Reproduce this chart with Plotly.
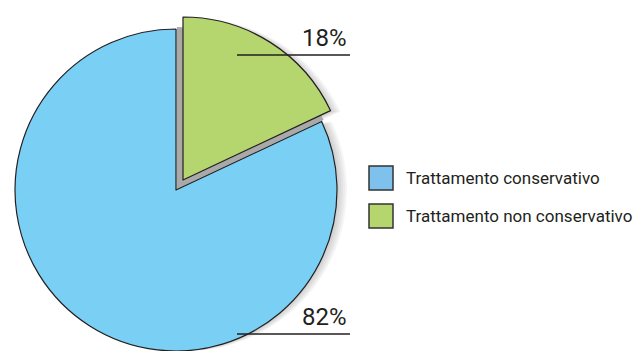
import plotly.graph_objects as go

# Chart data
labels = ["Trattamento conservativo", "Trattamento non conservativo"]
values = [82, 18]
slice_colors = ["#7AD0F4", "#B5D56F"]
legend_colors = ["#7EC1EC", "#B5D56F"]

W, H = 638, 351
FONT = "Roboto, Liberation Sans, sans-serif"

# Pie geometry (pixels): main pie centre/radius, offset of the detached slice
R = 161
RG = 163                 # detached slice radius
CX, CY = 176, 190
DX, DY = 7, -10          # detached slice offset
SDX, SDY = 1, -1         # its drop shadow offset

# slices are drawn clockwise from 12 o'clock, smaller share first
ORDER = [1, 0]


def domain(cx, cy, r):
    y0 = max(0.0, (H - cy - r) / H)
    return dict(x=[(cx - r) / W, (cx + r) / W],
                y=[y0, min(1.0, y0 + 2 * r / H)])


def pie(cx, cy, colors, lines, r=R):
    return go.Pie(
        labels=[labels[i] for i in ORDER], values=[values[i] for i in ORDER],
        sort=False, direction="clockwise", rotation=0,
        textinfo="none", hoverinfo="label+percent",
        showlegend=False, domain=domain(cx, cy, r),
        marker=dict(colors=[colors[i] for i in ORDER],
                    line=dict(color=[lines[i] for i in ORDER], width=1.2)),
    )


fig = go.Figure()
clear = "rgba(0,0,0,0)"

# soft drop shadow to the right of both slices
for k in range(1, 6):
    g = "rgba(60,60,60,0.05)"
    fig.add_trace(pie(CX + 2 * k, CY, [g, clear], [clear, clear]))
    fig.add_trace(pie(CX + DX + 2 * k, CY + DY + 1, [clear, g], [clear, clear], RG))

# solid shadow of the detached slice, visible in the gap
fig.add_trace(pie(CX + SDX, CY + SDY, [clear, "#A9A9A9"], [clear, clear], RG - 1))

# main slice
fig.add_trace(pie(CX, CY, [slice_colors[0], clear], ["#231F20", clear]))
# detached slice
fig.add_trace(pie(CX + DX, CY + DY, [clear, slice_colors[1]], [clear, "#231F20"], RG))

total = sum(values)
pcts = [f"{round(v / total * 100)}%" for v in values]

# percentage call-outs: (label index, leader line y in px)
callouts = [(1, 55), (0, 334)]
shapes = []
annotations = []
for idx, ly in callouts:
    shapes.append(dict(type="line", xref="paper", yref="paper",
                       x0=237 / W, x1=350 / W, y0=1 - ly / H, y1=1 - ly / H,
                       line=dict(color="#231F20", width=1.5)))
    annotations.append(dict(text=pcts[idx], xref="paper", yref="paper",
                            x=349 / W, y=1 - (ly - 1) / H,
                            xanchor="right", yanchor="bottom", showarrow=False,
                            font=dict(family=FONT, size=24, color="#231F20")))

# legend
for i, (lab, col) in enumerate(zip(labels, legend_colors)):
    top = 166 + 38 * i
    shapes.append(dict(type="rect", xref="paper", yref="paper",
                       x0=369 / W, x1=393 / W, y0=1 - (top + 24) / H, y1=1 - top / H,
                       fillcolor=col, line=dict(color="#333333", width=1.5)))
    annotations.append(dict(text=lab, xref="paper", yref="paper",
                            x=404 / W, y=1 - (top + 12) / H,
                            xanchor="left", yanchor="middle", showarrow=False,
                            font=dict(family=FONT, size=17, color="#231F20")))

fig.update_layout(
    width=W, height=H, margin=dict(l=0, r=0, t=0, b=0),
    paper_bgcolor="white", plot_bgcolor="white",
    shapes=shapes, annotations=annotations,
)

fig.write_html("out.html")
